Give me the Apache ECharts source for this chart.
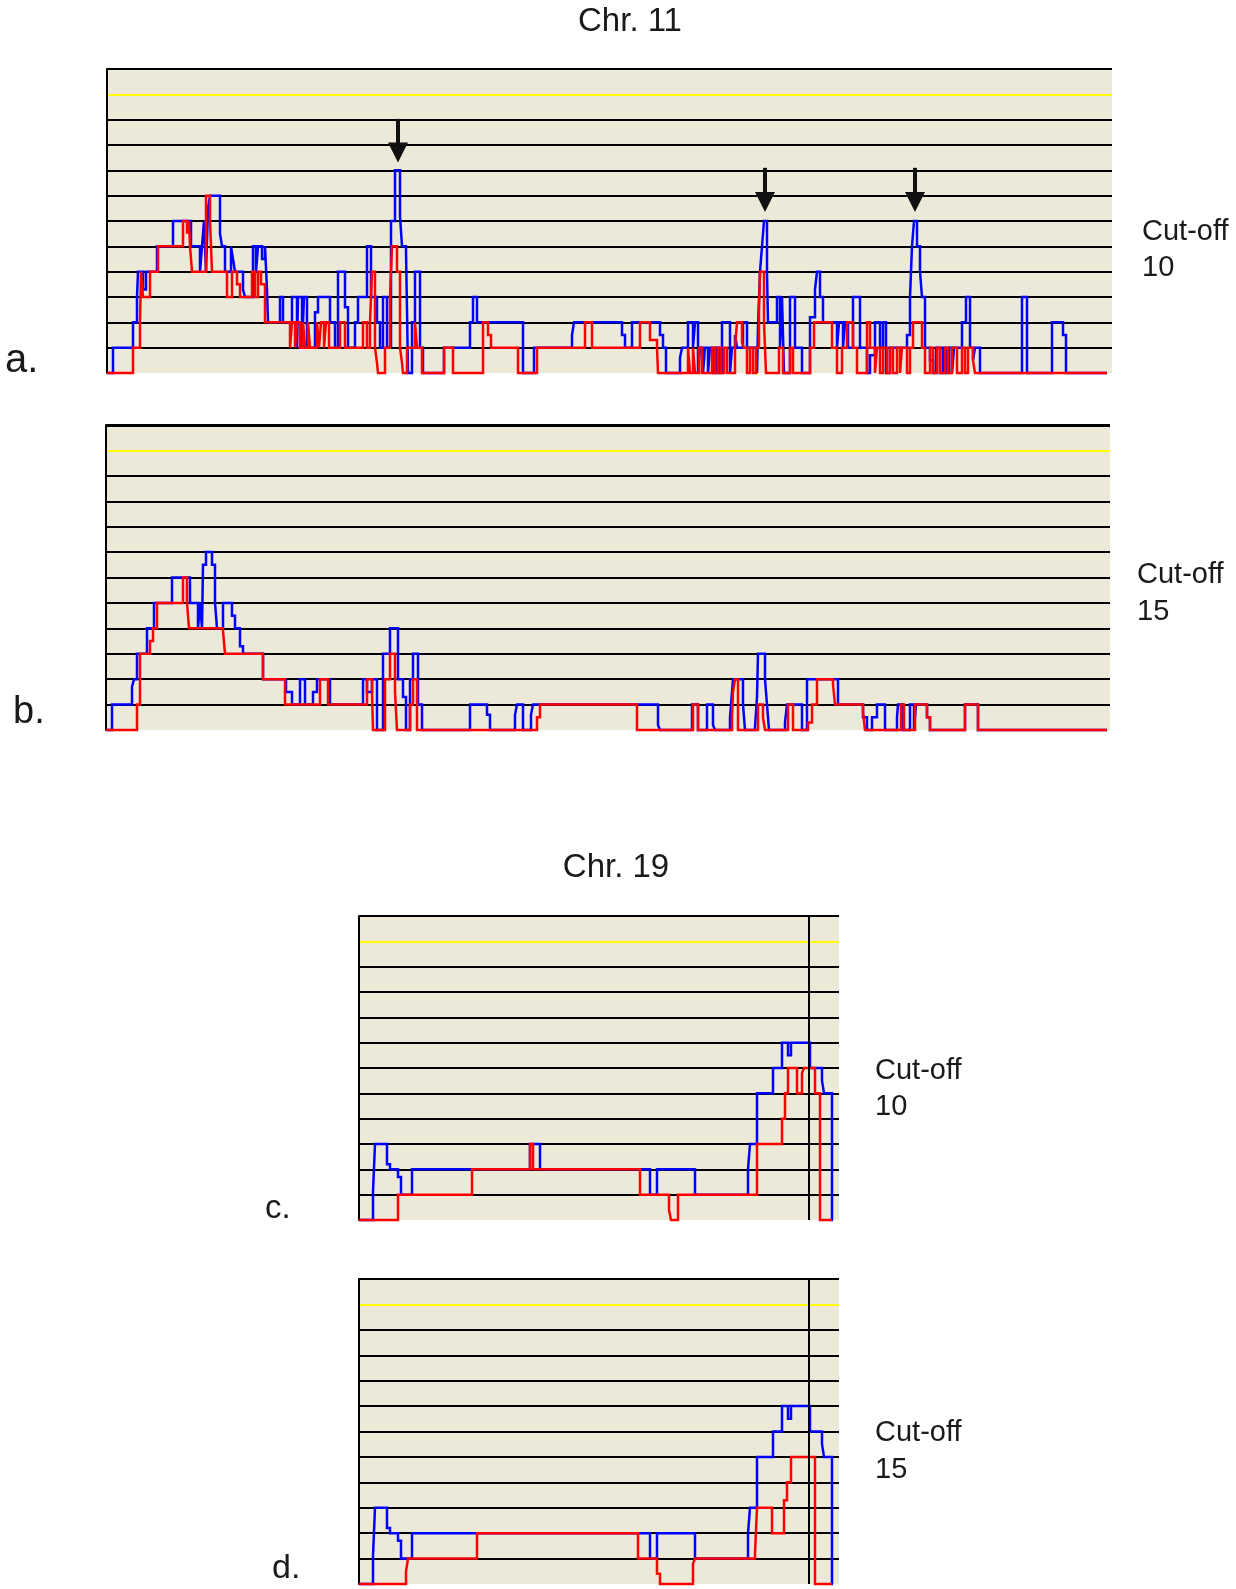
<!DOCTYPE html>
<html>
<head>
<meta charset="utf-8">
<script src="https://cdn.jsdelivr.net/npm/echarts@6/dist/echarts.min.js"></script>
<style>
html,body{margin:0;padding:0;background:#fff;}
#chart{width:1236px;height:1589px;}
</style>
</head>
<body>
<div id="chart"></div>
<script>
// Chr. 11, cut-off 10 (panel a) — [position, level], each value holds until the next position
const chr11aBlue = [[0,0],[6,1],[26,2],[30,3],[31,4],[36,3.3],[39,4],[50,5],[66,6],[84,5],[93,4],[95,5],[97,6],[99,4],[101,6.5],[103,7],[113,5.5],[115,5],[118,4],[124,5],[126,4.5],[128,4],[136,3.3],[138,3],[146,5],[149,4],[151,5],[155,4.5],[158,5],[160,3.3],[161,2],[173,3],[176,2],[185,3],[190,1],[191,3],[195,1],[197,3],[200,1],[208,2.4],[211,3],[223,2],[228,1],[231,4],[238,2.6],[241,1],[248,2],[251,3],[260,5],[264,3],[270,2],[273,1],[276,3],[280,1],[284,6],[288,8],[293,6.2],[295,5],[299,4.8],[300,2.5],[301,0],[305,2],[308,4],[313,1],[316,0],[337,1],[363,2],[366,3],[370,2],[416,0],[427,1],[465,1.5],[467,2],[515,1.5],[518,1],[525,2],[553,1.5],[556,1],[559,0],[573,0.6],[575,1],[581,2],[586,1],[588,2],[591,0],[593,1],[596,0],[598,1],[601,0],[603,1],[606,0],[609,1],[612,0],[615,2],[623,0],[625,1],[628,1.5],[630,1],[636,2],[640,1],[650,0],[651,1.8],[653,4],[655,5],[657,6],[660,4],[661,2],[670,3],[673,1],[675,3],[677,0],[683,3],[688,1],[695,0],[703,2.2],[708,3.3],[710,4],[713,3],[716,2],[730,1],[732,2],[736,1],[738,2],[741,1],[746,3],[753,1],[760,0],[763,0.7],[768,2],[773,1],[776,2],[779,0],[783,1],[800,1.5],[803,3],[805,5],[807,6],[810,5],[813,4],[815,3],[818,1],[823,0.5],[826,0],[829,1],[833,0],[836,1],[839,0],[842,1],[845,0],[847,1],[855,2],[859,3],[863,1],[866,0.5],[868,1],[873,0],[915,3],[920,0],[945,2],[956,1.5],[959,0],[1000,0]];
const chr11aRed = [[0,0],[26,1],[33,2],[34,4],[36,3],[43,4],[51,5],[76,6],[80,5.5],[82,6],[83,5],[85,4],[99,7],[103,6],[105,4],[120,3],[125,4],[130,3.5],[133,3],[145,4],[148,3],[151,4],[154,3.5],[158,2],[183,1],[185,2],[188,1],[190,2],[193,1],[196,2],[198,1],[201,2],[203,1],[210,2],[212,1],[214,2],[217,1],[219,2],[222,1],[233,2],[238,1],[256,2],[260,1],[263,2],[265,4],[268,1],[270,0.4],[271,0],[278,1],[283,3],[285,5],[290,4],[293,1],[295,0.4],[296,0],[300,1],[308,2],[310,1],[315,0],[337,1],[346,0],[376,2],[381,1.5],[384,1],[411,0],[430,1],[478,2],[485,1],[533,2],[543,1.3],[550,1],[551,0],[581,1],[583,0],[586,1],[588,0],[592,1],[595,0],[605,1],[608,0],[611,1],[614,0],[617,1],[620,0],[628,1],[630,2],[635,1.2],[637,1],[640,0],[643,1],[646,0],[649,1],[652,2.5],[653,4],[657,2],[659,0],[672,1],[676,0],[683,1],[686,0],[703,1],[707,2],[725,1],[730,0],[735,1],[740,2],[746,1],[750,0],[760,2],[763,1],[768,0],[770,1],[773,0],[776,1],[780,0],[783,1],[786,0],[790,1],[793,0],[795,1],[800,0],[803,1],[806,2],[815,1],[818,0],[823,1],[826,0],[830,1],[833,0],[838,1],[841,0],[845,1],[850,0],[855,1],[858,0],[861,1],[866,0.5],[868,0],[1000,0]];

// Chr. 11, cut-off 15 (panel b)
const chr11bBlue = [[0,0],[6,1],[26,1.7],[28,2],[31,3],[41,4],[48,5],[66,6],[84,5],[92,4],[94,5],[96,4],[97,6.5],[100,7],[106,6.5],[109,5],[111,4],[117,5],[126,4.5],[129,4],[134,3.3],[137,3],[157,2],[180,1.5],[186,1],[194,2],[199,1],[207,1.5],[211,2],[224,1],[257,2],[261,1.5],[266,2],[271,0],[277,3],[284,4],[292,2],[297,1.3],[300,0],[304,2],[307,3],[312,1],[316,0],[364,1],[381,0.6],[384,0],[409,0.6],[411,1],[417,0],[425,0.6],[427,1],[552,0.2],[554,0],[586,1],[592,0],[601,1],[607,0.2],[609,0],[624,0.5],[626,1.5],[627,2],[637,1],[639,0],[649,0.1],[651,1.3],[652,3],[659,2],[661,1],[663,0],[679,0.3],[681,1],[696,0],[701,2],[732,1],[757,0.5],[761,0],[766,0.5],[771,1],[779,0],[791,0.5],[792,1],[797,0],[804,1],[808,0],[810,1],[821,0.5],[824,0],[859,1],[872,0],[1001,0]];
const chr11bRed = [[0,0],[31,1],[34,3],[44,3.5],[47,4],[51,5],[77,6],[81,5],[83,4],[117,3.9],[119,3],[157,2],[179,1],[214,2],[222,1],[261,2],[266,1.5],[267,0],[279,2],[284,3],[289,1.5],[291,0],[304,1],[307,2],[311,0],[431,0.5],[434,1],[531,0],[587,1],[592,0],[626,0.5],[627,1.5],[629,2],[632,0],[652,1],[657,0.5],[659,0],[682,1],[687,0],[702,0.3],[706,1],[711,2],[727,1.8],[729,1],[757,0.7],[759,0],[795,1],[798,0],[809,1],[821,0.5],[824,0],[859,1],[872,0],[1001,0]];

// Chr. 19, cut-off 10 (panel c)
const chr19cBlue = [[0,0],[14,1.1],[16,3],[28,2.2],[31,2],[39,1.7],[42,1],[53,2],[171,3],[181,2],[291,1],[298,2],[336,1],[389,2],[391,3],[398,5],[414,6],[423,7],[429,6.5],[432,7],[451,6],[463,5.5],[465,5],[473,0],[474,0]];
const chr19cRed = [[0,0],[39,1],[113,2],[171,3],[174,2],[281,1],[310,0.4],[312,0],[319,1],[398,3],[423,4],[426,5],[429,6],[438,5],[443,5.8],[445,6],[456,5],[461,0],[473,0]];

// Chr. 19, cut-off 15 (panel d)
const chr19dBlue = [[0,0],[14,1.1],[16,3],[28,2.2],[31,2],[39,1.7],[42,1],[53,2],[291,1],[298,2],[336,1],[389,2],[391,3],[398,5],[414,6],[423,7],[429,6.5],[432,7],[451,6],[463,5.5],[465,5],[473,0],[474,0]];
const chr19dRed = [[0,0],[47,0.5],[49,1],[118,2],[279,1],[298,0.4],[301,0],[334,0.8],[336,1],[396,1.2],[398,3],[413,2],[425,3.3],[428,4],[432,5],[456,0],[473,0]];

// arrows over the peaks in panel a: [position, top level, head level]
const arrowMarks = [[291,10.03,8.7],[658,8.1,6.75],[808,8.1,6.75]];
// vertical reference line in the Chr. 19 panels
const chr19Marker = 450;

const BG = '#ECE9D8';
const gridColors = ['rgba(0,0,0,0)','#000','#000','#000','#000','#000','#000','#000','#000','#000','#000','#FFFF00','#000'];

const panels = [
  {left:107, top:69,  width:1005, height:304, xmax:1005, blue:chr11aBlue, red:chr11aRed, topW:2},
  {left:106, top:425, width:1004, height:305, xmax:1004, blue:chr11bBlue, red:chr11bRed, topW:3},
  {left:359, top:916, width:480,  height:304, xmax:480,  blue:chr19cBlue, red:chr19cRed, topW:2, marker:true},
  {left:359, top:1279,width:480,  height:305, xmax:480,  blue:chr19dBlue, red:chr19dRed, topW:2, marker:true}
];

const grid = [], xAxis = [], yAxis = [], series = [];
panels.forEach((p, i) => {
  grid.push({left:p.left, top:p.top, width:p.width, height:p.height, show:true, backgroundColor:BG, borderWidth:0, containLabel:false});
  xAxis.push({type:'value', gridIndex:i, min:0, max:p.xmax, show:false});
  yAxis.push({type:'value', gridIndex:i, min:0, max:12, interval:1,
    axisLine:{show:true, lineStyle:{color:'#000', width:2}},
    axisTick:{show:false}, axisLabel:{show:false},
    splitLine:{show:true, lineStyle:{color:gridColors, width:2}}});
  const blueS = {type:'line', xAxisIndex:i, yAxisIndex:i, data:p.blue, step:'end', symbol:'none',
    lineStyle:{color:'#0000FF', width:2.5, join:'miter', cap:'butt'}, itemStyle:{color:'#0000FF'}, animation:false, z:3, clip:false};
  const marks = [];
  if (p.topW > 2) marks.push({yAxis:12, lineStyle:{color:'#000', width:p.topW, type:'solid'}});
  if (p.marker) marks.push({xAxis:chr19Marker, lineStyle:{color:'#000', width:2, type:'solid'}});
  if (marks.length) blueS.markLine = {silent:true, symbol:'none', label:{show:false}, animation:false, data:marks};
  if (i === 0) {
    blueS.markLine = {silent:true, symbol:['none','triangle'], symbolSize:[20,20], label:{show:false}, animation:false,
      lineStyle:{color:'#111', width:4, type:'solid'},
      data: arrowMarks.map(a => [{coord:[a[0], a[1]]}, {coord:[a[0], a[2]]}])};
  }
  series.push(blueS);
  series.push({type:'line', xAxisIndex:i, yAxisIndex:i, data:p.red, step:'end', symbol:'none',
    lineStyle:{color:'#FF0000', width:2.5, join:'miter', cap:'butt'}, itemStyle:{color:'#FF0000'}, animation:false, z:4, clip:false});
});

const FONT = '"Liberation Sans", Arial, sans-serif';
function txt(text, x, y, size, align) {
  return {type:'text', x:x, y:y, silent:true, z:100,
    style:{text:text, fill:'#1a1a1a', font:size + 'px ' + FONT,
      textAlign:align || 'left', textVerticalAlign:'middle', align:align || 'left', verticalAlign:'middle'}};
}

const chart = echarts.init(document.getElementById('chart'), null, {renderer:'canvas'});
chart.setOption({
  animation:false,
  backgroundColor:'#ffffff',
  grid:grid, xAxis:xAxis, yAxis:yAxis, series:series,
  graphic:[
    txt('Chr. 11', 630, 22, 33, 'center'),
    txt('a.', 5, 361, 40),
    txt('Cut-off', 1142, 232, 29), txt('10', 1142, 268, 29),
    txt('b.', 13, 713, 38),
    txt('Cut-off', 1137, 575, 29), txt('15', 1137, 612, 29),
    txt('Chr. 19', 616, 868, 33, 'center'),
    txt('c.', 265, 1209, 33),
    txt('Cut-off', 875, 1071, 29), txt('10', 875, 1107, 29),
    txt('d.', 272, 1569, 34),
    txt('Cut-off', 875, 1433, 29), txt('15', 875, 1470, 29)
  ]
});
</script>
</body>
</html>
